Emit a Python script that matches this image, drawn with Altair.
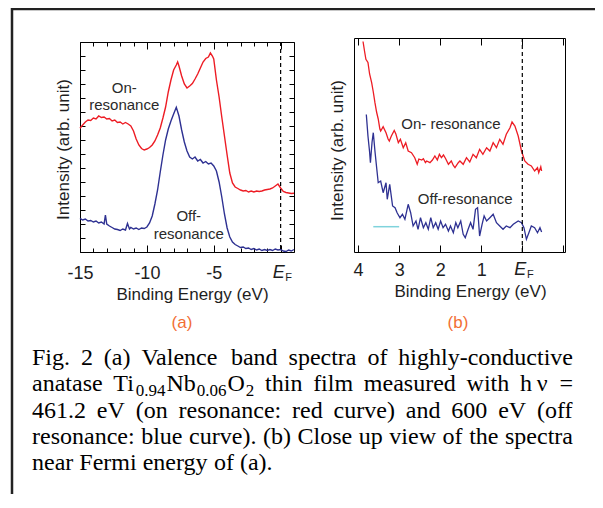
import re
import altair as alt
import pandas as pd

# ---------------- data: panel (a) ----------------
a_on_E = [-15.0, -14.8, -14.6, -14.4, -14.2, -14.0, -13.8, -13.6, -13.4, -13.2, -13.0, -12.8, -12.6,
          -12.4, -12.2, -12.0, -11.8, -11.6, -11.4, -11.2, -11.0, -10.8, -10.6, -10.4, -10.2, -10.0,
          -9.8, -9.6, -9.4, -9.2, -9.0, -8.8, -8.6, -8.4, -8.2, -8.0, -7.8, -7.7, -7.6, -7.4, -7.2,
          -7.0, -6.8, -6.6, -6.4, -6.2, -6.0, -5.8, -5.6, -5.4, -5.25, -5.1, -5.0, -4.8, -4.6, -4.4,
          -4.2, -4.0, -3.8, -3.6, -3.4, -3.2, -3.0, -2.8, -2.6, -2.4, -2.2, -2.0, -1.8, -1.6, -1.4,
          -1.2, -1.0, -0.8, -0.6, -0.4, -0.2, 0.0, 0.2, 0.4, 0.6, 0.8, 1.0]
a_on_I = [123.7, 127, 130, 132, 131.5, 134, 133, 136, 134.5, 135, 133, 133.5, 131,
          132, 129.5, 130, 128, 129.5, 128, 126, 121, 113, 107, 103.5, 102, 103,
          104.5, 107, 111, 117, 124, 134, 145, 160, 172, 182, 187, 190, 186, 176, 168,
          164, 166, 168.5, 173, 178, 184, 190, 193.5, 195, 199, 196, 193, 172, 155, 135,
          116, 97, 79, 69, 65, 63.5, 62, 61, 61.5, 60, 61, 60, 61, 60.5, 61,
          62, 62.5, 63, 64, 66, 68, 64, 60.5, 59.5, 59, 58.5, 58.7]

a_off_E = [-15.0, -14.8, -14.6, -14.4, -14.2, -14.0, -13.8, -13.6, -13.4, -13.2, -13.1, -13.0, -12.8,
           -12.6, -12.4, -12.2, -12.0, -11.8, -11.6, -11.45, -11.3, -11.2, -11.0, -10.8, -10.6, -10.4,
           -10.2, -10.0, -9.8, -9.6, -9.4, -9.2, -9.0, -8.8, -8.6, -8.4, -8.2, -8.0, -7.8, -7.6, -7.4,
           -7.2, -7.0, -6.8, -6.6, -6.4, -6.2, -6.0, -5.8, -5.6, -5.4, -5.2, -5.0, -4.8, -4.6, -4.4,
           -4.2, -4.0, -3.8, -3.6, -3.4, -3.2, -3.0, -2.8, -2.6, -2.4, -2.2, -2.0, -1.8, -1.6, -1.4,
           -1.2, -1.0, -0.8, -0.6, -0.4, -0.2, 0.0, 0.2, 0.4, 0.6, 0.8, 1.0]
a_off_I = [33.7, 32, 33, 31, 31.5, 30, 31, 29, 30, 28, 37, 28, 26,
           24.5, 23, 22.5, 21.5, 23, 22, 28.5, 23, 24.5, 23, 24, 22.5, 24,
           23.5, 25, 29, 36, 48, 62, 80, 97, 112, 123, 131, 138, 144.7, 136, 122,
           110, 101, 95, 93, 95, 91, 92.5, 89, 90.5, 88, 89, 86, 81, 70, 55,
           38, 24, 15, 10, 7.5, 6, 4.5, 5, 3.5, 4, 2.5, 3.5, 2, 3, 1.5,
           2.5, 1.5, 2.5, 1.5, 3, 2, 2.5, 1, 0.5, 2, 1, 2.5]

a_label_text = ["On-", "resonance", "Off-", "resonance"]
a_label_E = [-11.69, -11.69, -6.87, -6.87]
a_label_I = [164.5, 147, 36, 18.5]

# ---------------- data: panel (b) ----------------
b_on_E = [3.88, 3.84, 3.81, 3.76, 3.72, 3.67, 3.63, 3.59, 3.55, 3.51, 3.47, 3.45, 3.39, 3.32, 3.27,
          3.24, 3.19, 3.12, 3.08, 3.02, 2.97, 2.90, 2.84, 2.78, 2.70, 2.62, 2.56, 2.52, 2.45, 2.41,
          2.36, 2.33, 2.25, 2.19, 2.13, 2.07, 2.02, 1.97, 1.92, 1.87, 1.80, 1.73, 1.68, 1.64, 1.56,
          1.52, 1.44, 1.36, 1.28, 1.20, 1.12, 1.04, 0.96, 0.87, 0.79, 0.71, 0.63, 0.55, 0.47, 0.39,
          0.30, 0.25, 0.18, 0.10, 0.02, -0.06, -0.14, -0.22, -0.30, -0.37, -0.40, -0.45, -0.47]
b_on_I = [210.5, 200, 192.7, 189.5, 178, 169.3, 160, 149.3, 140, 133, 123, 121, 125.3, 119.3, 113,
          111, 116, 121.5, 118, 109.3, 112.7, 104.3, 109.3, 101, 99.3, 94.3, 87.7, 93, 92, 93.3,
          89.5, 91, 89.3, 92, 96, 92, 97.7, 94.3, 97, 93.5, 87.7, 91, 86.5, 84.3, 89.3,
          91, 87.7, 94.3, 90, 97.7, 94.3, 102.7, 97.7, 104.3, 101, 109.3, 104.3, 112.7, 107.7, 117.7,
          124.3, 130, 126, 116, 101, 91, 87.7, 86, 81, 84.3, 79.3, 85.3, 81]

b_off_E = [3.80, 3.76, 3.72, 3.70, 3.66, 3.63, 3.59, 3.55, 3.51, 3.45, 3.39, 3.32, 3.29, 3.23, 3.16,
           3.10, 3.05, 2.98, 2.92, 2.86, 2.78, 2.72, 2.66, 2.59, 2.54, 2.48, 2.41, 2.35, 2.29, 2.23,
           2.17, 2.11, 2.05, 1.99, 1.93, 1.87, 1.80, 1.75, 1.68, 1.62, 1.57, 1.50, 1.44, 1.39, 1.32,
           1.26, 1.20, 1.14, 1.09, 1.04, 0.98, 0.93, 0.87, 0.79, 0.71, 0.63, 0.55, 0.47, 0.39, 0.30,
           0.22, 0.10, 0.02, -0.04, -0.10, -0.16, -0.22, -0.30, -0.37, -0.43, -0.47]
b_off_I = [137.5, 116, 100, 89.3, 110, 119.3, 101, 85, 69.3, 71, 59.3, 69.3, 52.7, 67.7, 46,
           44.3, 39.3, 34.3, 37.7, 32.7, 47.7, 39.3, 26, 31, 22.7, 34.3, 24.3, 29.3, 22.7, 34.3,
           24.3, 29.3, 22.7, 31, 24.3, 27.7, 21, 26, 19.3, 29.3, 24.3, 31, 17.7, 14.3, 22.7,
           29.3, 22.7, 42.7, 44.3, 16, 27.7, 36, 31, 34.3, 37.7, 29.3, 26, 22.7, 26, 24.3,
           27.7, 31, 29.3, 24.3, 12.7, 19.3, 26, 24.3, 19.3, 24.3, 20]

b_mark_E = [3.63, 3.00]
b_mark_I = [25.3, 25.3]

b_label_text = ["On- resonance", "Off-resonance"]
b_label_E = [1.74, 1.39]
b_label_I = [128, 53.5]

a_ticks = [-15, -10, -5, 0]
b_ticks = [4, 3, 2, 1, 0]
x_title = "Binding Energy (eV)"
y_title = "Intensity (arb. unit)"
panel_tags = ["(a)", "(b)"]

caption_lines = [
    "Fig. 2 (a) Valence band spectra of highly-conductive",
    "anatase Ti_{0.94}Nb_{0.06}O_{2} thin film measured with h\u2009\u03bd =",
    "461.2 eV (on resonance: red curve) and 600 eV (off",
    "resonance: blue curve). (b) Close up view of the spectra",
    "near Fermi energy of (a).",
]

# ---------------- layout ----------------
W, H = 587, 486
AX0, AX1, AY0, AY1 = 72, 286, 244, 34
BX0, BX1, BY0, BY1 = 346, 557, 244, 30
SANS = "Liberation Sans"
SERIF = "Liberation Serif"
RED, BLUE, CYAN, ORANGE, INK = "#ed1c24", "#2e3192", "#7fd3dc", "#f26f35", "#1e1e1e"

sxA = alt.Scale(domain=[-15, 1.0], range=[AX0, AX1], nice=False, zero=False)
syA = alt.Scale(domain=[0, 210], range=[AY0, AY1], nice=False, zero=False)
sxB = alt.Scale(domain=[-1.04, 4.1], range=[BX0, BX1], reverse=True, nice=False, zero=False)
syB = alt.Scale(domain=[0, 214], range=[BY0, BY1], nice=False, zero=False)

LBL = "datum.value == 0 ? '' : '' + datum.value"


def label_axis(values, title_x, pad):
    return alt.Axis(orient="bottom", offset=AY0 - H, values=values, labelExpr=LBL, ticks=False,
                    tickSize=0, domainColor="black", domainWidth=1, labelFont=SANS, labelFontSize=18,
                    labelColor=INK, labelBaseline="alphabetic", labelPadding=pad, labelOverlap=False,
                    labelFlush=False, title=x_title, titleFont=SANS, titleFontSize=17,
                    titleFontWeight="normal", titleColor=INK, titleX=title_x, titleY=pad + 21,
                    titleBaseline="alphabetic", grid=False)


def ytitle_axis(x0, ty):
    return alt.Axis(orient="left", offset=-x0, ticks=False, labels=False, domainColor="black",
                    domainWidth=1, title=y_title, titleFont=SANS, titleFontSize=17,
                    titleFontWeight="normal", titleColor=INK, titleX=-17, titleY=ty,
                    titleBaseline="middle", titleAngle=270, grid=False)


def tick_axis(orient, offset, values, size, domain):
    return alt.Axis(orient=orient, offset=offset, values=values, labels=False, domain=domain,
                    domainColor="black", domainWidth=1, tickColor="black", tickWidth=1,
                    tickSize=size, title=None, grid=False)


minor5 = {"condition": {"test": "datum.value % 5 === 0", "value": 7}, "value": 4}

# ---- panel (a)
dA_on = pd.DataFrame({"E": a_on_E, "V": a_on_I})
dA_off = pd.DataFrame({"E": a_off_E, "V": a_off_I})
dA_lab = pd.DataFrame({"E": a_label_E, "V": a_label_I, "t": a_label_text})
dZero = pd.DataFrame({"E": [0.0]})

A1 = alt.Chart(dA_on).mark_line(color=RED, strokeWidth=1.4).encode(
    x=alt.X("E:Q", scale=sxA, axis=label_axis(a_ticks, 184, 26)),
    y=alt.Y("V:Q", scale=syA, axis=ytitle_axis(AX0, 141)))
A2 = alt.Chart(dA_off).mark_line(color=BLUE, strokeWidth=1.4).encode(
    x=alt.X("E:Q", scale=sxA, axis=tick_axis("top", -AY0, list(range(-15, 1)), minor5, False)),
    y=alt.Y("V:Q", scale=syA, axis=tick_axis("right", AX0 - W, list(range(0, 211, 14)), 5, False)))
A3 = alt.Chart(dZero).mark_rule(color="black", strokeDash=[4, 3], strokeWidth=1.2).encode(
    x=alt.X("E:Q", scale=sxA, axis=tick_axis("bottom", AY1 - H, list(range(-15, 1)), minor5, True)),
    y=alt.value(AY1), y2=alt.value(AY0))
A4 = alt.Chart(dA_lab).mark_text(font=SANS, fontSize=15, color="#2a2a2a", baseline="middle").encode(
    x=alt.X("E:Q", scale=sxA, axis=None),
    y=alt.Y("V:Q", scale=syA, axis=tick_axis("left", -AX1, list(range(0, 211, 14)), 5, True)),
    text="t:N")
A5 = alt.Chart(dZero).mark_text(font=SANS, fontSize=18, fontStyle="italic", color=INK,
                                baseline="alphabetic", dx=-2).encode(
    x=alt.X("E:Q", scale=sxA, axis=None), y=alt.value(270), text=alt.value("E"))
A6 = alt.Chart(dZero).mark_text(font=SANS, fontSize=11, color=INK, baseline="alphabetic", dx=8).encode(
    x=alt.X("E:Q", scale=sxA, axis=None), y=alt.value(273), text=alt.value("F"))
panelA = alt.layer(A1, A2, A3, A4, A5, A6).resolve_axis(x="independent", y="independent")

# ---- panel (b)
dB_on = pd.DataFrame({"E": b_on_E, "V": b_on_I})
dB_off = pd.DataFrame({"E": b_off_E, "V": b_off_I})
dB_mark = pd.DataFrame({"E": b_mark_E, "V": b_mark_I})
dB_lab = pd.DataFrame({"E": b_label_E, "V": b_label_I, "t": b_label_text})

B1 = alt.Chart(dB_on).mark_line(color=RED, strokeWidth=1.3).encode(
    x=alt.X("E:Q", scale=sxB, axis=label_axis(b_ticks, 462, 23)),
    y=alt.Y("V:Q", scale=syB, axis=ytitle_axis(BX0, 142)))
B2 = alt.Chart(dB_off).mark_line(color=BLUE, strokeWidth=1.3).encode(
    x=alt.X("E:Q", scale=sxB, axis=tick_axis("top", -BY0, [4, 3, 2, 1, 0, -1], 7, False)),
    y=alt.Y("V:Q", scale=syB, axis=None))
B3 = alt.Chart(dZero).mark_rule(color="black", strokeDash=[4, 3], strokeWidth=1.2).encode(
    x=alt.X("E:Q", scale=sxB, axis=tick_axis("bottom", BY1 - H, [4, 3, 2, 1, 0, -1], 7, True)),
    y=alt.value(BY1), y2=alt.value(BY0))
B4 = alt.Chart(dB_lab).mark_text(font=SANS, fontSize=15, color="#2a2a2a", baseline="middle").encode(
    x=alt.X("E:Q", scale=sxB, axis=None),
    y=alt.Y("V:Q", scale=syB, axis=tick_axis("left", -BX1, [0], 0, True)),
    text="t:N")
B5 = alt.Chart(dZero).mark_text(font=SANS, fontSize=18, fontStyle="italic", color=INK,
                                baseline="alphabetic", dx=-2).encode(
    x=alt.X("E:Q", scale=sxB, axis=None), y=alt.value(267), text=alt.value("E"))
B6 = alt.Chart(dZero).mark_text(font=SANS, fontSize=11, color=INK, baseline="alphabetic", dx=8).encode(
    x=alt.X("E:Q", scale=sxB, axis=None), y=alt.value(270), text=alt.value("F"))
B7 = alt.Chart(dB_mark).mark_line(color=CYAN, strokeWidth=1.5).encode(
    x=alt.X("E:Q", scale=sxB, axis=None), y=alt.Y("V:Q", scale=syB, axis=None))
panelB = alt.layer(B1, B2, B3, B4, B5, B6, B7).resolve_axis(x="independent", y="independent")

# ---- caption (justified like the figure text), frame and panel tags
CW = {" ": 250, "(": 333, ")": 333, ".": 250, ",": 250, "-": 333, ":": 278, "=": 564,
      "\u2009": 200, "\u03bd": 500,
      "A": 722, "B": 667, "C": 667, "D": 722, "E": 611, "F": 556, "G": 722, "H": 722, "I": 333,
      "N": 722, "O": 722, "T": 611, "V": 722,
      "a": 444, "b": 500, "c": 444, "d": 500, "e": 444, "f": 333, "g": 500, "h": 500, "i": 278,
      "j": 278, "k": 500, "l": 278, "m": 778, "n": 500, "o": 500, "p": 500, "q": 500, "r": 333,
      "s": 389, "t": 278, "u": 500, "v": 500, "w": 722, "x": 500, "y": 500, "z": 444}
FS, FSUB = 24, 17
CAP_L, CAP_R, CAP_Y0, CAP_DY = 24, 565, 357, 26.3
SEG_GAP = 1.0


def segs(word):
    out = []
    for part in re.split(r"(_\{[^}]*\})", word):
        if not part:
            continue
        if part.startswith("_{"):
            out.append((part[2:-1], True))
        else:
            out.append((part, False))
    return out


def width(text, sub):
    return sum(CW.get(ch, 500) for ch in text) * (FSUB if sub else FS) / 1000.0


def word_width(w):
    return sum(width(t, s) for t, s in w) + SEG_GAP * (len(w) - 1)


rows = []
for li, line in enumerate(caption_lines):
    words = [segs(w) for w in line.split(" ")]
    wws = [word_width(w) for w in words]
    last = li == len(caption_lines) - 1
    gap = FS * 0.25 if last else (CAP_R - CAP_L - sum(wws)) / (len(words) - 1)
    base = CAP_Y0 + li * CAP_DY
    x = CAP_L
    for w, ww in zip(words, wws):
        xx = x
        for t, s in w:
            rows.append({"px": xx, "py": base + (5 if s else 0), "fs": FSUB if s else FS, "t": t})
            xx += width(t, s) + SEG_GAP
        x += ww + gap
dCap = pd.DataFrame(rows)

caption = alt.Chart(dCap).mark_text(font=SERIF, color="black", align="left",
                                    baseline="alphabetic").encode(
    x=alt.X("px:Q", scale=None, axis=None), y=alt.Y("py:Q", scale=None, axis=None),
    size=alt.Size("fs:Q", scale=None, legend=None), text="t:N")

one = pd.DataFrame({"k": [0]})
frame_l = alt.Chart(one).mark_rule(color="#222", strokeWidth=2.5).encode(
    x=alt.value(4), y=alt.value(0), y2=alt.value(H))
frame_t = alt.Chart(one).mark_rule(color="#222", strokeWidth=2.5).encode(
    x=alt.value(4), x2=alt.value(W), y=alt.value(1))
tagA = alt.Chart(one).mark_text(font=SANS, fontSize=17, color=ORANGE, baseline="middle").encode(
    x=alt.value(174), y=alt.value(315), text=alt.value(panel_tags[0]))
tagB = alt.Chart(one).mark_text(font=SANS, fontSize=17, color=ORANGE, baseline="middle").encode(
    x=alt.value(450), y=alt.value(315), text=alt.value(panel_tags[1]))

chart = alt.layer(panelA, panelB, caption, frame_l, frame_t, tagA, tagB).resolve_scale(
    x="independent", y="independent", size="independent"
).properties(width=W, height=H, padding=0, autosize=alt.AutoSizeParams(type="none")
).configure_view(stroke=None)

chart.save("out.html", embed_options={"renderer": "svg", "actions": False})
